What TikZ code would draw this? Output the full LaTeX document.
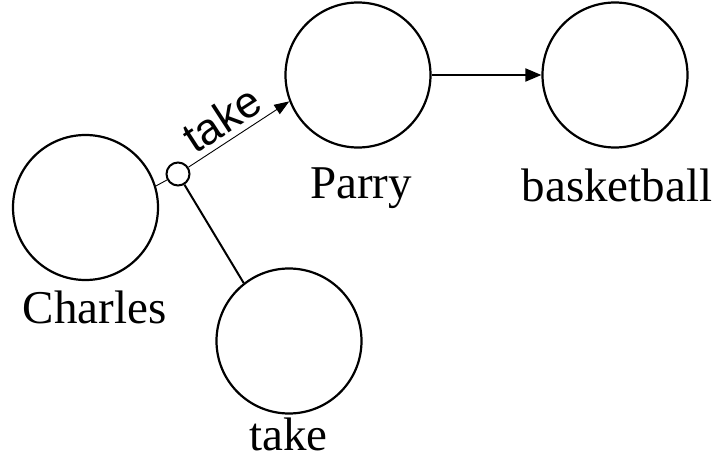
\documentclass[tikz,border=0pt]{standalone}
\usepackage{fontspec}
\setmainfont{Liberation Serif}
\newfontfamily\labelsans{Liberation Sans}
\usetikzlibrary{arrows.meta}
\tikzset{
  entity/.style={circle, draw, line width=2.2pt, minimum size=145pt, inner sep=0pt},
  junction/.style={circle, draw, line width=2pt, minimum size=23pt, inner sep=0pt, fill=white},
  caption/.style={anchor=base, inner sep=0pt, font=\fontsize{47}{47}\selectfont},
  thin link/.style={line width=0.9pt},
  thick link/.style={line width=2pt},
}
\begin{document}
\begin{tikzpicture}[x=1pt, y=-1pt]
  \useasboundingbox (0,0) rectangle (715,457);
  % entities
  \node[entity] (charles) at (85.5,207.5) {};
  \node[entity] (parry) at (358,75) {};
  \node[entity] (ball) at (615,75) {};
  \node[entity] (takec) at (289,341) {};
  \node[junction] (sc) at (178,174) {};
  % names
  \node[caption] (lcharles) at (94.5,323) {Charles};
  \node[caption] (lparry) at (361,199) {Parry};
  \node[caption] (lball) at (617,202) {basketball};
  \node[caption] (ltake) at (288.5,450) {take};
  % links
  \draw[thin link] (charles.17.5) -- (sc);
  \draw[thin link, -{Stealth[length=15pt, width=11pt, inset=0pt]}] (sc) -- (parry.201.5);
  \draw[thick link] (sc) -- (takec.128);
  \draw[thick link, -{Stealth[length=16pt, width=13pt, inset=0pt]}] (parry.east) -- (ball.west);
  % relation label
  \node[rotate=33, inner sep=0pt, font=\labelsans\fontsize{44}{44}\selectfont] (rel) at (222,119) {take};
\end{tikzpicture}
\end{document}
